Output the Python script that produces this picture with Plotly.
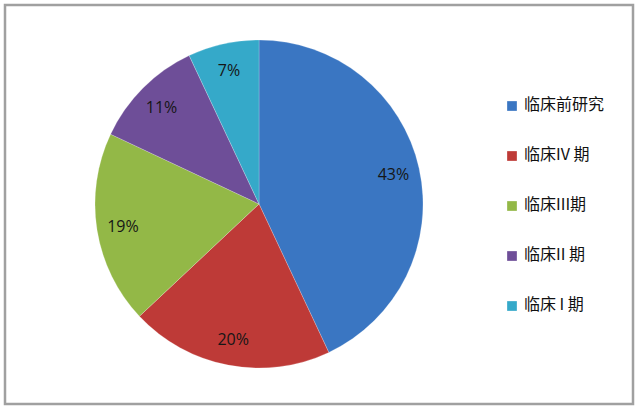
import plotly.graph_objects as go

labels = ["临床前研究", "临床IV 期", "临床III期", "临床II 期", "临床 I 期"]
values = [43, 20, 19, 11, 7]
colors = ["#3A76C2", "#BE3A37", "#93B847", "#6E4E98", "#35A9C9"]

W, H = 640, 410
cx, cy, r = 259, 204, 164

fig = go.Figure()
# main pie (slices)
fig.add_trace(go.Pie(
    labels=labels, values=values, sort=False, direction="clockwise", rotation=0,
    marker=dict(colors=colors, line=dict(color="rgba(255,255,255,0.35)", width=0.6)),
    textinfo="none",
    domain=dict(x=[(cx - r) / W, (cx + r) / W], y=[(H - cy - r) / H, (H - cy + r) / H]),
    showlegend=False,
    hoverinfo="label+percent",
))
# transparent ring overlay used only to place the percentage labels near the rim
fig.add_trace(go.Pie(
    labels=labels, values=values, sort=False, direction="clockwise", rotation=0,
    hole=0.68,
    marker=dict(colors=["rgba(0,0,0,0)"] * len(values), line=dict(width=0)),
    texttemplate="%{percent:.0%}",
    textposition="inside",
    insidetextorientation="horizontal",
    textfont=dict(family="Open Sans, Liberation Sans, sans-serif", size=16, color="#161616"),
    domain=dict(x=[(cx - r) / W, (cx + r) / W], y=[(H - cy - r) / H, (H - cy + r) / H]),
    showlegend=False,
    hoverinfo="skip",
))

# legend drawn as annotations + squares
leg_text_x, leg_sym_x0, leg_sym_x1 = 522, 507, 517
leg_y0, leg_dy = 103, 50
shapes = [dict(type="rect", xref="paper", yref="paper",
               x0=5 / W, x1=633 / W, y0=1 - 404 / H, y1=1 - 5 / H,
               line=dict(color="#a0a0a0", width=2.5), fillcolor="rgba(0,0,0,0)")]
annotations = []
for i, (lab, col) in enumerate(zip(labels, colors)):
    yc = leg_y0 + i * leg_dy
    shapes.append(dict(type="rect", xref="paper", yref="paper",
                       x0=leg_sym_x0 / W, x1=leg_sym_x1 / W,
                       y0=1 - (yc + 8) / H, y1=1 - (yc - 2) / H,
                       line=dict(color="rgba(255,255,255,0.6)", width=0.5), fillcolor=col))
    annotations.append(dict(text=lab, xref="paper", yref="paper",
                            x=leg_text_x / W, y=1 - yc / H, xanchor="left", yanchor="middle",
                            showarrow=False,
                            font=dict(family="Noto Sans CJK SC, sans-serif", size=16, color="#111")))

fig.update_layout(
    width=W, height=H,
    margin=dict(l=0, r=0, t=0, b=0),
    paper_bgcolor="white",
    showlegend=False,
    shapes=shapes,
    annotations=annotations,
)

fig.write_html("out.html", config={"displayModeBar": False},
               post_script="document.body.style.margin='0';")
